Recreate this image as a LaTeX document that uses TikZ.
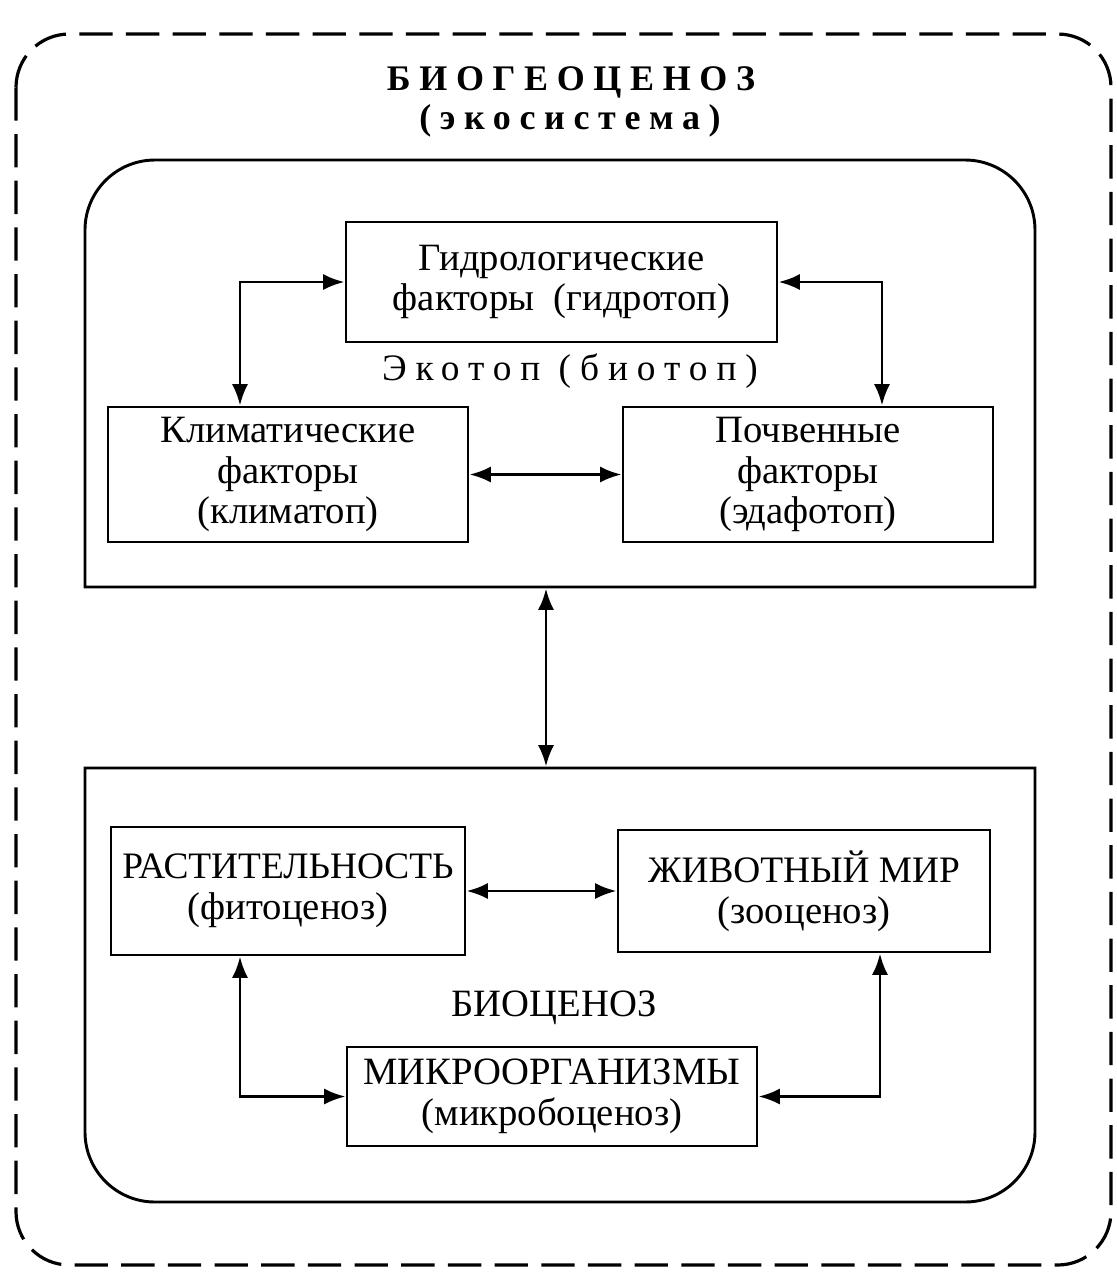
\documentclass[tikz,border=0pt]{standalone}
\usepackage{fontspec}
\setmainfont{Liberation Serif}
\usetikzlibrary{arrows.meta}
\begin{document}
\begin{tikzpicture}[x=0.75pt,y=-0.75pt,
  line width=2.2pt,
  box/.style={draw, line width=2.2pt, inner sep=0pt, align=center, font=\fontsize{29}{30.5}\selectfont},
  lab/.style={inner sep=0pt, align=center},
  dbl/.style={line width=2.2pt, {Latex[length=16pt,width=12pt]}-{Latex[length=16pt,width=12pt]}}]
\useasboundingbox (0,0) rectangle (1117,1272);
% outer dashed frame
\draw[line width=2.4pt, dash pattern=on 25pt off 10pt, rounded corners=40pt] (16,34) rectangle (1111,1265);
\node[lab, font=\fontsize{27}{30}\selectfont\bfseries\addfontfeature{LetterSpace=24}] (title) at (571,82) {БИОГЕОЦЕНОЗ};
\node[lab, font=\fontsize{27}{30}\selectfont\bfseries\addfontfeature{LetterSpace=24}] (subtitle) at (570,121) {(экосистема)};
% upper container (ecotop)
\node[minimum width=712.5pt, minimum height=320.25pt, inner sep=0pt] (eco) at (560,373.5) {};
\draw (85,587) -- (85,230) .. controls (85,191.3) and (116.3,160) .. (155,160)
  -- (965,160) .. controls (1003.7,160) and (1035,191.3) .. (1035,230) -- (1035,587) -- cycle;
% lower container (biocenosis)
\node[minimum width=712.5pt, minimum height=325.5pt, inner sep=0pt] (bio) at (560,985) {};
\draw (85,768) -- (1035,768) -- (1035,1132) .. controls (1035,1170.7) and (1003.7,1202) .. (965,1202)
  -- (155,1202) .. controls (116.3,1202) and (85,1170.7) .. (85,1132) -- cycle;
% ecotop boxes
\node[box, minimum width=323.25pt, minimum height=90pt] (hydro) at (561.5,282) {Гидрологические\\факторы~ (гидротоп)};
\node[lab, font=\fontsize{28}{30}\selectfont\addfontfeature{LetterSpace=24}] (ekotop) at (570,371) {Экотоп (биотоп)};
\node[box, minimum width=270pt, minimum height=101.25pt] (clim) at (288,474.5) {Климатические\\факторы\\(климатоп)};
\node[box, minimum width=277.5pt, minimum height=101.25pt] (soil) at (808,474.5) {Почвенные\\факторы\\(эдафотоп)};
% biocenosis boxes
\node[box, minimum width=265.5pt, minimum height=96pt] (plant) at (288,891) {{\fontsize{28}{30}\selectfont РАСТИТЕЛЬНОСТЬ}\\(фитоценоз)};
\node[box, minimum width=279pt, minimum height=91.5pt] (animal) at (804,891) {{\fontsize{28}{30}\selectfont ЖИВОТНЫЙ МИР}\\(зооценоз)};
\node[lab, font=\fontsize{29}{30}\selectfont] (biolab) at (554,1008) {БИОЦЕНОЗ};
\node[box, minimum width=307.5pt, minimum height=74.25pt] (micro) at (552,1096.5) {МИКРООРГАНИЗМЫ\\(микробоценоз)};
% connectors
\draw[dbl] (hydro.west) -| ([xshift=-36pt]clim.north);
\draw[dbl] (hydro.east) -| ([xshift=55.5pt]soil.north);
\draw[dbl] (clim.east) -- (soil.west);
\draw[dbl] (eco.south -| 546,0) -- (bio.north -| 546,0);
\draw[dbl] (plant.east) -- (animal.west);
\draw[dbl] ([xshift=-36pt]plant.south) |- (micro.west);
\draw[dbl] ([xshift=57pt]animal.south) |- (micro.east);
\end{tikzpicture}
\end{document}
